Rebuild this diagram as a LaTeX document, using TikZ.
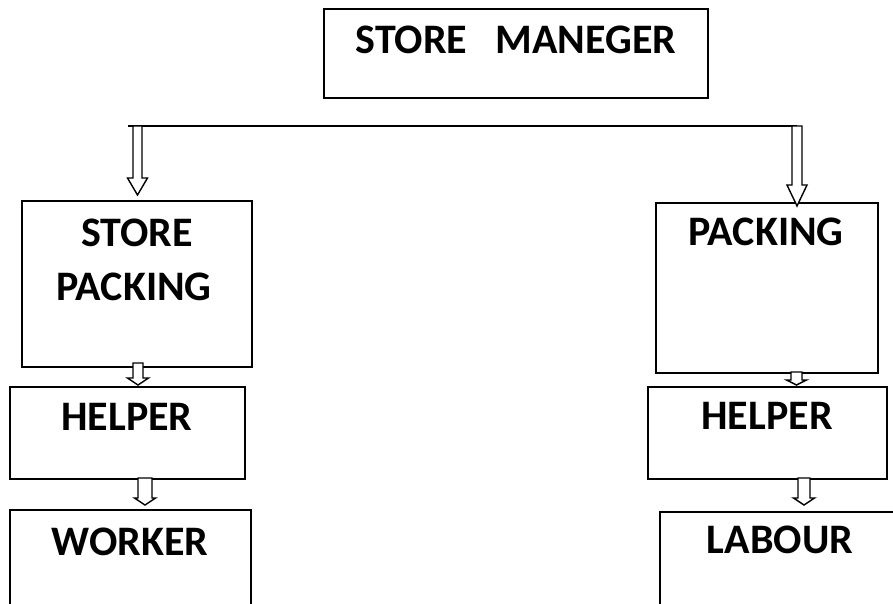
\documentclass[tikz,border=0pt]{standalone}
\usepackage{fontspec}
\setmainfont{Carlito}
\tikzset{
  box/.style={draw=black, line width=2.9pt, fill=none, inner sep=0pt},
  lab/.style={font=\fontsize{42}{42}\selectfont\bfseries, anchor=base, inner sep=0pt},
  arr/.style={draw=black, line width=1.4pt, fill=white, line join=miter},
  bus/.style={draw=black, line width=1.7pt}
}
% hollow block arrow: x centre, y top, y head start, y tip, half shaft, half head
\newcommand\hollowarrow[6]{%
  \draw[arr] (#1-#5,#2) -- (#1-#5,#3) -- (#1-#6,#3) -- (#1,#4) -- (#1+#6,#3) -- (#1+#5,#3) -- (#1+#5,#2) -- cycle;}
\begin{document}
\begin{tikzpicture}[x=1pt,y=-1pt]
\useasboundingbox (0,0) rectangle (893,603);
\clip (0,0) rectangle (893,603);
% boxes
\node[box, minimum width=384pt, minimum height=89pt] (sm) at (516,53.5) {};
\node[box, minimum width=230pt, minimum height=166pt] (spk) at (137,284) {};
\node[box, minimum width=222pt, minimum height=170pt] (pk) at (767,288) {};
\node[box, minimum width=235pt, minimum height=92pt] (h1) at (127.5,433) {};
\node[box, minimum width=239pt, minimum height=92pt] (h2) at (767.5,433) {};
\node[box, minimum width=241pt, minimum height=130pt] (wk) at (130.5,575) {};
\node[box, minimum width=245pt, minimum height=130pt] (lb) at (782.5,577) {};
% labels
\node[lab] (tsm) at (516,53) {STORE\ \ \ MANEGER};
\node[lab] (tspk1) at (137,246) {STORE};
\node[lab] (tspk2) at (134,300) {PACKING};
\node[lab] (tpk) at (766,245) {PACKING};
\node[lab] (th1) at (127,430) {HELPER};
\node[lab] (th2) at (767,429) {HELPER};
\node[lab] (twk) at (130,555) {WORKER};
\node[lab] (tlb) at (780,553) {LABOUR};
% connectors
\coordinate (bl) at (128,126);
\coordinate (br) at (797,126);
\draw[bus] (bl) -- (br);
\hollowarrow{137.5}{126}{178}{195}{4.5}{10}
\hollowarrow{797}{126}{185}{206}{5}{10}
\hollowarrow{138}{363}{378}{385}{5}{10.5}
\hollowarrow{145}{478}{498}{505}{7}{10.5}
\hollowarrow{796.5}{372}{380}{385}{5.5}{10}
\hollowarrow{804}{478}{498}{505}{6}{10.5}
\end{tikzpicture}
\end{document}
